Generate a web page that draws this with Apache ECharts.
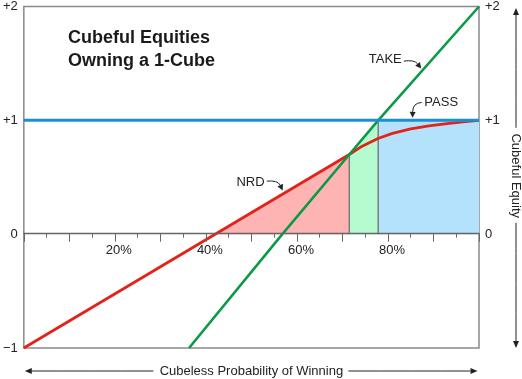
<!DOCTYPE html>
<html><head><meta charset="utf-8">
<script src="https://cdn.jsdelivr.net/npm/echarts@6/dist/echarts.min.js"></script>
<style>html,body{margin:0;padding:0;background:#fff}#c{width:522px;height:379px}</style>
</head><body><div id="c"></div>
<script>
// ---- data (x = cubeless probability of winning, %, y = cubeful equity) ----
const nrdX  = [0, 71.5, 74, 77.8, 81, 85, 89, 93, 97, 100];
const nrdY  = [-1, 0.70, 0.765, 0.84, 0.885, 0.925, 0.952, 0.972, 0.988, 1.0];
const takeX = [36.3, 56.8, 71.5, 77.85, 100];
const takeY = [-1, 0, 0.70, 1, 2];
const passX = [0, 100];
const passY = [1, 1];
// region boundaries
const nrdZeroX = 42.3;     // NRD crosses 0
const takeStartX = 71.5;   // NRD meets TAKE
const passStartX = 77.85;  // TAKE meets PASS
const takeStartY = 0.70;
// axis ranges and labels
const yMin = -1, yMax = 2;
const xLabelValues = [20, 40, 60, 80];
const yLabelsLeft  = {'2': '+2', '1': '+1', '0': '0', '-1': '\u22121'};
const yLabelsRight = {'2': '+2', '1': '+1', '0': '0'};
// annotations (data coords): label centre, arrow start, control, tip
const annotations = [
  {text: 'TAKE', at: [79.4, 1.535], s: [83.48, 1.520], c: [85.78, 1.534], t: [87.31, 1.455]},
  {text: 'PASS', at: [91.7, 1.157], s: [87.42, 1.157], c: [85.45, 1.153], t: [85.4, 1.022]},
  {text: 'NRD',  at: [49.8, 0.452], s: [53.39, 0.466], c: [55.8, 0.475], t: [56.89, 0.383]}
];

const zip = (xs, ys) => xs.map((x, i) => [x, ys[i]]);
const FONT = "'Liberation Sans', Arial, Helvetica, sans-serif";
const RED = '#e2231a', GREEN = '#0b9a45', BLUE = '#1b8fd6';
const W = 522, H = 379, GL = 22, GR = 43, GT = 5, GB = 31;
const gridH = H - GT - GB;
const zeroOffset = -gridH * (0 - yMin) / (yMax - yMin);

const chart = echarts.init(document.getElementById('c'), null, {renderer: 'canvas'});

const areaSeries = (data, color) => ({
  type: 'line', data, symbol: 'none', z: 1, silent: true,
  lineStyle: {width: 0, opacity: 0},
  areaStyle: {color, opacity: 1, origin: 'auto'}
});
const lineSeries = (data, color, width, z) => ({
  type: 'line', data, symbol: 'none', z, silent: true,
  lineStyle: {color, width, cap: 'butt', join: 'round'}
});

chart.setOption({
  animation: false,
  textStyle: {fontFamily: FONT},
  grid: {left: GL, right: GR, top: GT, bottom: GB, show: true,
         borderColor: '#8a8a8a', borderWidth: 1.5, backgroundColor: 'transparent'},
  xAxis: {
    type: 'value', min: 0, max: 100, interval: 10, z: 5, position: 'bottom', offset: zeroOffset,
    axisLine: {onZero: false, lineStyle: {color: '#666', width: 1.3}},
    axisTick: {show: true, length: 8, lineStyle: {color: '#666', width: 1}},
    minorTick: {show: true, splitNumber: 2, length: 4, lineStyle: {color: '#666', width: 1}},
    splitLine: {show: false},
    axisLabel: {
      margin: 10, fontSize: 13, color: '#222', fontFamily: FONT, padding: [0, 0, 0, 8],
      formatter: v => xLabelValues.includes(v) ? v + '%' : ''
    }
  },
  yAxis: [
    {type: 'value', min: yMin, max: yMax, interval: 1, position: 'left',
     axisLine: {show: false}, axisTick: {show: false}, splitLine: {show: false},
     axisLabel: {margin: 6, fontSize: 13, color: '#222', fontFamily: FONT,
                 formatter: v => yLabelsLeft[String(v)] ?? ''}},
    {type: 'value', min: yMin, max: yMax, interval: 1, position: 'right',
     axisLine: {show: false}, axisTick: {show: false}, splitLine: {show: false},
     axisLabel: {margin: 6, fontSize: 13, color: '#222', fontFamily: FONT,
                 formatter: v => yLabelsRight[String(v)] ?? ''}}
  ],
  series: [
    areaSeries([[nrdZeroX, 0], [takeStartX, takeStartY]], '#ffb4b4'),
    areaSeries([[takeStartX, takeStartY], [passStartX, 1]], '#b4fcd0'),
    areaSeries([[passStartX, 1], [100, 1]], '#b4e2fc'),
    lineSeries([[takeStartX, 0], [takeStartX, takeStartY]], '#7d7d7d', 1.5, 2),
    lineSeries([[passStartX, 0], [passStartX, 1]], '#7d7d7d', 1.5, 2),
    lineSeries(zip(nrdX, nrdY), RED, 2.8, 3),
    lineSeries(zip(takeX, takeY), GREEN, 2.6, 4),
    lineSeries(zip(passX, passY), BLUE, 3, 5)
  ]
});

function arrow(S, C, T, head, hw) {
  head = head || 6; hw = hw || 3;
  const dx = T[0] - C[0], dy = T[1] - C[1];
  const L = Math.hypot(dx, dy), ux = dx / L, uy = dy / L;
  const B = [T[0] - ux * head, T[1] - uy * head];
  return [
    {type: 'bezierCurve', z: 10, silent: true,
     shape: {x1: S[0], y1: S[1], cpx1: C[0], cpy1: C[1], x2: B[0], y2: B[1]},
     style: {stroke: '#222', lineWidth: 1, fill: null}},
    {type: 'polygon', z: 10, silent: true,
     shape: {points: [T, [B[0] - uy * hw, B[1] + ux * hw], [B[0] + uy * hw, B[1] - ux * hw]]},
     style: {fill: '#222'}}
  ];
}
const straight = (S, T) => arrow(S, [(S[0] + T[0]) / 2, (S[1] + T[1]) / 2], T, 7, 3);
const px = p => chart.convertToPixel({gridIndex: 0}, p);

const g = [];
// title
g.push({type: 'text', x: 68, y: 27, z: 10, silent: true,
  style: {text: 'Cubeful Equities\nOwning a 1-Cube', fontFamily: FONT, fontSize: 18,
          fontWeight: 'bold', fill: '#1a1a1a', lineHeight: 22.5, align: 'left', verticalAlign: 'top'}});
// annotations
annotations.forEach(a => {
  const p = px(a.at);
  g.push({type: 'text', x: p[0], y: p[1], z: 10, silent: true,
    style: {text: a.text, fontFamily: FONT, fontSize: 13, fill: '#222', align: 'center', verticalAlign: 'middle'}});
  g.push(...arrow(px(a.s), px(a.c), px(a.t), 6, 3));
});
// bottom axis title with arrows
const gl = px([0, yMin]), gr = px([100, yMin]);
const by = gl[1] + 23;
const bx = (gl[0] + gr[0]) / 2;
g.push({type: 'text', x: bx, y: by, z: 10, silent: true,
  style: {text: 'Cubeless Probability of Winning', fontFamily: FONT, fontSize: 13, fill: '#222',
          align: 'center', verticalAlign: 'middle'}});
g.push(...straight([bx - 98, by], [gl[0] + 1, by]));
g.push(...straight([bx + 97, by], [gr[0] - 1.5, by]));
// right axis title with arrows
const gt = px([100, yMax]);
const rx = 516;
const ry = (gt[1] + gr[1]) / 2 - 1.5;
g.push({type: 'text', x: rx, y: ry, rotation: -Math.PI / 2, z: 10, silent: true,
  style: {text: 'Cubeful Equity', fontFamily: FONT, fontSize: 13, fill: '#222',
          align: 'center', verticalAlign: 'middle'}});
g.push(...straight([rx, ry - 48], [rx, gt[1] + 1.5]));
g.push(...straight([rx, ry + 47], [rx, gr[1]]));

chart.setOption({graphic: g});
</script></body></html>
